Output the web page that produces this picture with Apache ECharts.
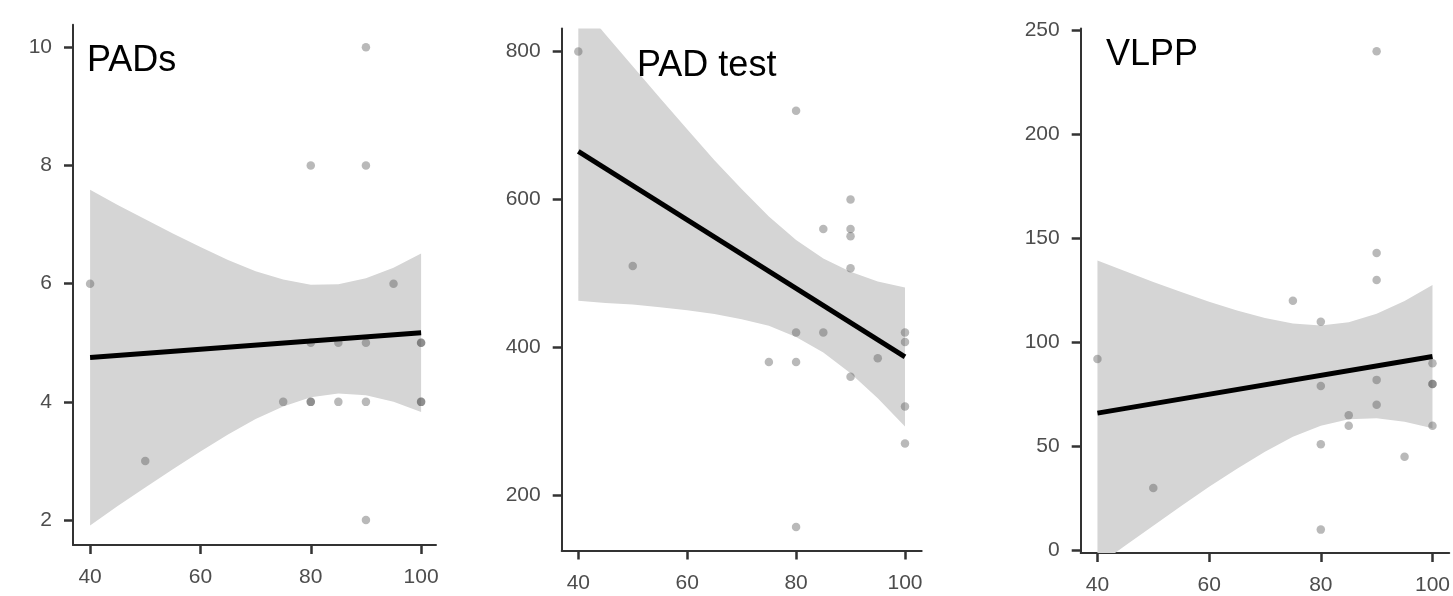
<!DOCTYPE html>
<html lang="en">
<head>
    <meta charset="UTF-8">
    <title>PADs / PAD test / VLPP</title>
    <script src="https://cdn.jsdelivr.net/npm/echarts@6.0.0/dist/echarts.min.js"></script>
    <style>
        html, body { margin: 0; padding: 0; background: #fff; }
        #chart { width: 1453px; height: 596px; }
    </style>
</head>
<body>
<div id="chart"></div>
<script type="text/javascript">
    var xTicks = [40, 60, 80, 100];

    // PADs
    var padsX = [40, 50, 75, 80, 80, 80, 80, 85, 85, 90, 90, 90, 90, 90, 95, 100, 100, 100, 100];
    var padsY = [6, 3, 4, 8, 5, 4, 4, 5, 4, 10, 8, 5, 4, 2, 6, 5, 5, 4, 4];
    var padsYTicks = [2, 4, 6, 8, 10];
    var padsFitX = [40, 100];
    var padsFitY = [4.75, 5.17];
    var padsBandX = [40, 45, 50, 55, 60, 65, 70, 75, 80, 85, 90, 95, 100];
    var padsBandUpper = [7.59, 7.33, 7.09, 6.85, 6.62, 6.40, 6.21, 6.07, 5.98, 5.99, 6.09, 6.27, 6.51];
    var padsBandLower = [1.91, 2.24, 2.55, 2.86, 3.16, 3.45, 3.71, 3.92, 4.08, 4.14, 4.11, 4.00, 3.83];

    // PAD test
    var testX = [40, 50, 75, 80, 80, 80, 80, 85, 85, 90, 90, 90, 90, 90, 95, 100, 100, 100, 100];
    var testY = [800, 510, 380, 720, 420, 380, 157, 560, 420, 600, 560, 550, 507, 360, 385, 420, 407, 320, 270];
    var testYTicks = [200, 400, 600, 800];
    var testFitX = [40, 100];
    var testFitY = [665, 387];
    var testBandX = [40, 45, 50, 55, 60, 65, 70, 75, 80, 85, 90, 95, 100];
    var testBandUpper = [867, 823, 780, 737, 695, 653, 614, 577, 545, 520, 502, 489, 481];
    var testBandLower = [463, 460, 458, 454, 450, 445, 438, 429, 414, 393, 365, 331, 293];

    // VLPP
    var vlppX = [40, 50, 75, 80, 80, 80, 80, 85, 85, 90, 90, 90, 90, 90, 95, 100, 100, 100, 100];
    var vlppY = [92, 30, 120, 110, 79, 51, 10, 65, 60, 240, 143, 130, 82, 70, 45, 90, 80, 80, 60];
    var vlppYTicks = [0, 50, 100, 150, 200, 250];
    var vlppFitX = [40, 100];
    var vlppFitY = [66, 93.2];
    var vlppBandX = [40, 45, 50, 55, 60, 65, 70, 75, 80, 85, 90, 95, 100];
    var vlppBandUpper = [139.4, 134.2, 129.1, 124.2, 119.6, 115.3, 111.7, 109.1, 108.2, 109.7, 113.8, 119.9, 127.6];
    var vlppBandLower = [-7.4, 2.4, 11.9, 21.4, 30.6, 39.3, 47.5, 54.7, 60.0, 63.1, 63.6, 61.9, 58.8];

    var panels = [
        {title: 'PADs', x: padsX, y: padsY, yTicks: padsYTicks, fitX: padsFitX, fitY: padsFitY,
            bandX: padsBandX, upper: padsBandUpper, lower: padsBandLower,
            grid: {left: 73, top: 24.8, width: 363, height: 520.1},
            xMin: 36.9, xMax: 102.7, yMin: 1.58, yMax: 10.38, titleLeft: 87, titleTop: 43},
        {title: 'PAD test', x: testX, y: testY, yTicks: testYTicks, fitX: testFitX, fitY: testFitY,
            bandX: testBandX, upper: testBandUpper, lower: testBandLower,
            grid: {left: 561.7, top: 28.6, width: 360, height: 522},
            xMin: 36.95, xMax: 103.07, yMin: 125, yMax: 831, titleLeft: 637, titleTop: 48},
        {title: 'VLPP', x: vlppX, y: vlppY, yTicks: vlppYTicks, fitX: vlppFitX, fitY: vlppFitY,
            bandX: vlppBandX, upper: vlppBandUpper, lower: vlppBandLower,
            grid: {left: 1080.7, top: 28.6, width: 375.7, height: 529.6},
            xMin: 37.0, xMax: 103.0, yMin: -1.24, yMax: 250.9, titleLeft: 1106, titleTop: 37}
    ];

    function zip(a, b) {
        var out = [];
        for (var i = 0; i < a.length; i++) out.push([a[i], b[i]]);
        return out;
    }

    // 置信带：上沿正向 + 下沿反向 组成多边形
    function bandRenderer(p) {
        return function (params, api) {
            var pts = [];
            for (var k = 0; k < p.bandX.length; k++) pts.push(api.coord([p.bandX[k], p.upper[k]]));
            for (var m = p.bandX.length - 1; m >= 0; m--) pts.push(api.coord([p.bandX[m], p.lower[m]]));
            return {
                type: 'polygon',
                shape: {points: pts},
                style: {fill: '#d5d5d5', stroke: null}
            };
        };
    }

    var axisColor = '#333';
    var labelStyle = {fontSize: 21, color: '#4d4d4d', fontFamily: 'Liberation Sans, Arial, sans-serif'};

    var option = {
        backgroundColor: '#fff',
        animation: false,
        title: [],
        grid: [],
        xAxis: [],
        yAxis: [],
        series: []
    };

    panels.forEach(function (p, i) {
        option.title.push({
            text: p.title, left: p.titleLeft, top: p.titleTop, padding: 0,
            textStyle: {fontSize: 36, fontWeight: 'normal', color: '#000', fontFamily: 'Liberation Sans, Arial, sans-serif'}
        });
        option.grid.push(p.grid);
        option.xAxis.push({
            type: 'value', gridIndex: i, min: p.xMin, max: p.xMax,
            axisLine: {show: true, onZero: false, lineStyle: {color: axisColor, width: 2}},
            axisTick: {show: true, length: 9, customValues: xTicks, lineStyle: {color: axisColor, width: 2.5}},
            axisLabel: Object.assign({customValues: xTicks, margin: 22}, labelStyle),
            splitLine: {show: false}
        });
        option.yAxis.push({
            type: 'value', gridIndex: i, min: p.yMin, max: p.yMax,
            axisLine: {show: true, onZero: false, lineStyle: {color: axisColor, width: 2}},
            axisTick: {show: true, length: 9, customValues: p.yTicks, lineStyle: {color: axisColor, width: 2.5}},
            axisLabel: Object.assign({customValues: p.yTicks, margin: 21}, labelStyle),
            splitLine: {show: false}
        });

        option.series.push({
            type: 'custom', xAxisIndex: i, yAxisIndex: i, data: [[p.bandX[0], p.lower[0]]],
            renderItem: bandRenderer(p), clip: true, silent: true, z: 1
        });
        option.series.push({
            type: 'scatter', xAxisIndex: i, yAxisIndex: i, data: zip(p.x, p.y),
            symbolSize: 8.5, itemStyle: {color: 'rgba(80,80,80,0.5)'}, z: 3
        });
        option.series.push({
            type: 'line', xAxisIndex: i, yAxisIndex: i, data: zip(p.fitX, p.fitY),
            symbol: 'none', lineStyle: {color: '#000', width: 5}, z: 4
        });
    });

    var myChart = echarts.init(document.getElementById('chart'));
    myChart.setOption(option);
</script>
</body>
</html>
